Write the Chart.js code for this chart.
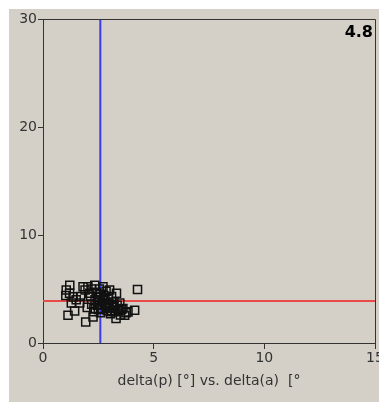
<!DOCTYPE html>
<html>
<head>
<meta charset="utf-8">
<script src="https://cdn.jsdelivr.net/npm/chart.js@4.4.1/dist/chart.umd.min.js"></script>
<style>
  html, body { margin: 0; padding: 0; background: #ffffff; }
  #wrap { position: absolute; left: 0; top: 0; width: 379px; height: 402px; }
</style>
</head>
<body>
<div id="wrap"><canvas id="c" width="379" height="402"></canvas></div>
<script>
// delta(p) vs. delta(a) measurements, in degrees
const deltaP = [1.05,1.03,1.21,1.36,1.28,1.66,1.43,1.13,1.50,1.20,1.93,2.26,1.81,2.03,1.90,2.10,2.34,2.20,2.00,2.20,
                2.30,2.45,2.50,2.55,2.60,2.65,2.70,2.71,2.75,2.80,2.85,2.90,2.95,3.01,3.00,3.05,3.10,3.15,3.20,3.25,
                3.32,3.30,3.35,3.40,3.47,3.50,3.55,3.61,3.69,3.75,3.84,4.14,4.27,2.40,2.50,2.60,2.70,2.80,2.90,2.45,
                2.35,2.15,2.85,3.00,3.10,2.55,2.65,3.20,2.30,1.70];
const deltaA = [4.90,4.40,5.35,4.27,3.70,3.70,2.97,2.57,4.00,4.60,1.95,2.41,5.20,5.20,4.90,4.60,5.35,5.00,3.30,3.60,
                2.90,4.20,3.80,5.00,4.50,3.20,3.90,5.20,4.40,3.50,4.80,3.00,4.10,4.90,3.60,2.70,4.30,3.30,3.80,2.90,
                4.60,2.26,3.50,3.00,3.70,2.60,3.10,3.20,2.57,2.80,2.88,3.03,4.95,4.70,3.10,2.80,4.00,4.20,3.70,3.50,
                4.00,4.30,3.30,3.20,2.90,4.30,3.60,3.40,3.20,4.30];

// reference lines
const meanP = 2.59;
const meanA = 3.9;
const cornerValue = "4.8";

const xTicks = [0, 5, 10, 15];
const yTicks = [0, 10, 20, 30];
const xTitle = "delta(p) [°] vs. delta(a)  [°";

const points = deltaP.map((p, i) => ({ x: p, y: deltaA[i] }));

const panelBg = {
  id: 'panelBg',
  beforeDraw(chart) {
    const ctx = chart.ctx;
    ctx.save();
    ctx.fillStyle = '#ffffff';
    ctx.fillRect(0, 0, chart.width, chart.height);
    ctx.fillStyle = '#d4d0c8';
    ctx.fillRect(9, 9, chart.width - 9, chart.height - 9);
    ctx.restore();
  },
  afterDraw(chart) {
    const a = chart.chartArea;
    const ctx = chart.ctx;
    ctx.save();
    ctx.strokeStyle = '#333333';
    ctx.lineWidth = 1;
    ctx.beginPath();
    ctx.moveTo(Math.round(a.left) + 0.5, Math.round(a.top) + 0.5);
    ctx.lineTo(Math.round(a.right) + 0.5, Math.round(a.top) + 0.5);
    ctx.lineTo(Math.round(a.right) + 0.5, Math.round(a.bottom) + 0.5);
    ctx.stroke();
    ctx.fillStyle = '#000000';
    ctx.font = 'bold 16px "DejaVu Sans"';
    ctx.textAlign = 'right';
    ctx.textBaseline = 'alphabetic';
    ctx.fillText(cornerValue, a.right - 2, a.top + 18);
    ctx.restore();
  }
};

new Chart(document.getElementById('c'), {
  type: 'scatter',
  data: {
    datasets: [
      {
        type: 'line',
        data: [{ x: meanP, y: 0 }, { x: meanP, y: 30 }],
        borderColor: '#3a3ae8',
        borderWidth: 2,
        pointRadius: 0,
        order: 2
      },
      {
        type: 'line',
        data: [{ x: 0, y: meanA }, { x: 15, y: meanA }],
        borderColor: '#e84a4a',
        borderWidth: 2,
        pointRadius: 0,
        order: 2
      },
      {
        data: points,
        pointStyle: 'rect',
        pointRadius: 5.7,
        pointHoverRadius: 5.7,
        borderColor: '#111111',
        backgroundColor: 'rgba(0,0,0,0)',
        borderWidth: 1.5,
        order: 1
      }
    ]
  },
  options: {
    responsive: false,
    animation: false,
    events: [],
    layout: { autoPadding: false, padding: { left: 0, top: 19, right: 4, bottom: 12 } },
    plugins: { legend: { display: false }, tooltip: { enabled: false } },
    scales: {
      x: {
        type: 'linear',
        min: 0, max: 15,
        afterBuildTicks(s) { s.ticks = xTicks.map(v => ({ value: v })); },
        afterFit(s) { s.height = 47; s.paddingLeft = 0; s.paddingRight = 0; },
        ticks: { color: '#333333', font: { family: 'DejaVu Sans', size: 14 }, padding: 1, maxRotation: 0 },
        grid: { display: true, drawOnChartArea: false, drawTicks: true, tickLength: 6, color: '#333333' },
        border: { display: true, color: '#333333', width: 1 },
        title: { display: true, text: xTitle, color: '#333333', font: { family: 'DejaVu Sans', size: 14 }, padding: { top: 0, bottom: 0 } }
      },
      y: {
        type: 'linear',
        min: 0, max: 30,
        afterBuildTicks(s) { s.ticks = yTicks.map(v => ({ value: v })); },
        afterFit(s) { s.width = 43; s.paddingTop = 0; s.paddingBottom = 0; },
        ticks: { color: '#333333', font: { family: 'DejaVu Sans', size: 14 }, padding: 1 },
        grid: { display: true, drawOnChartArea: false, drawTicks: true, tickLength: 5, color: '#333333' },
        border: { display: true, color: '#333333', width: 1 }
      }
    }
  },
  plugins: [panelBg]
});
</script>
</body>
</html>
